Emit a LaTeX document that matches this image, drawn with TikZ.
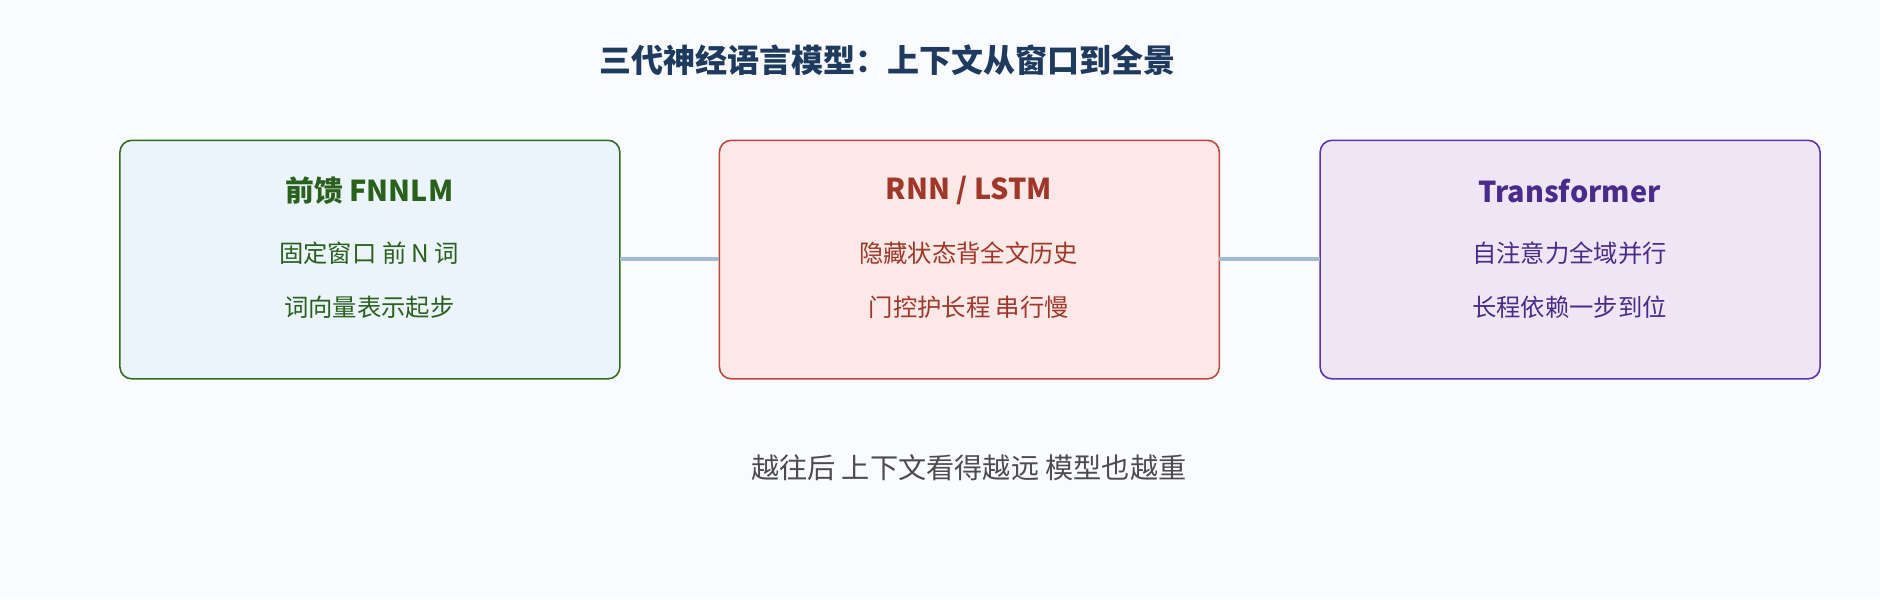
\documentclass[tikz,border=0pt]{standalone}
\usepackage{fontspec}
\setmainfont{Noto Sans CJK SC}
\begin{document}
\begin{tikzpicture}[x=1pt,y=-1pt,
 box/.style={rounded corners=10pt,line width=1.3pt},
 ttl/.style={font=\fontsize{24}{28}\selectfont\bfseries},
 txt/.style={font=\fontsize{20.3}{24}\selectfont},
 conn/.style={draw=link,line width=3pt}]
\definecolor{bg}{HTML}{F9FBFE}
\definecolor{link}{HTML}{A3BBCF}
\definecolor{navy}{HTML}{1F3A5F}
\definecolor{gA}{HTML}{2E6B1F}\definecolor{gF}{HTML}{EAF4FA}
\definecolor{rA}{HTML}{C0453A}\definecolor{rF}{HTML}{FCE8E6}\definecolor{rT}{HTML}{A0382A}
\definecolor{pA}{HTML}{5B30B8}\definecolor{pF}{HTML}{EFE6F5}\definecolor{pT}{HTML}{4A2A8A}
\fill[bg] (0,0) rectangle (1568,500);
\useasboundingbox (0,0) rectangle (1568,500);
\node[font=\fontsize{26.7}{32}\selectfont\bfseries,text=navy] (title) at (740,50) {三代神经语言模型：上下文从窗口到全景};
\draw[box,draw=gA,fill=gF] (100,117) rectangle (517,316);
\draw[box,draw=rA,fill=rF] (600,117) rectangle (1017,316);
\draw[box,draw=pA,fill=pF] (1101,117) rectangle (1518,316);
\coordinate (b1e) at (517,216);\coordinate (b2w) at (600,216);
\coordinate (b2e) at (1017,216);\coordinate (b3w) at (1101,216);
\draw[conn] (b1e) -- (b2w);
\draw[conn] (b2e) -- (b3w);
\node[ttl,text=gA!90!black] (t1) at (308,159) {前馈 FNNLM};
\node[txt,text=gA!90!black] (l1a) at (308,211) {固定窗口 前 N 词};
\node[txt,text=gA!90!black] (l1b) at (308,256) {词向量表示起步};
\node[ttl,text=rT] (t2) at (808,159) {RNN / LSTM};
\node[txt,text=rT] (l2a) at (808,211) {隐藏状态背全文历史};
\node[txt,text=rT] (l2b) at (808,256) {门控护长程 串行慢};
\node[ttl,text=pT] (t3) at (1309,159) {Transformer};
\node[txt,text=pT] (l3a) at (1309,211) {自注意力全域并行};
\node[txt,text=pT] (l3b) at (1309,256) {长程依赖一步到位};
\node[font=\fontsize{23.5}{28}\selectfont,text=black!70] (foot) at (808,390) {越往后 上下文看得越远 模型也越重};
\end{tikzpicture}
\end{document}
